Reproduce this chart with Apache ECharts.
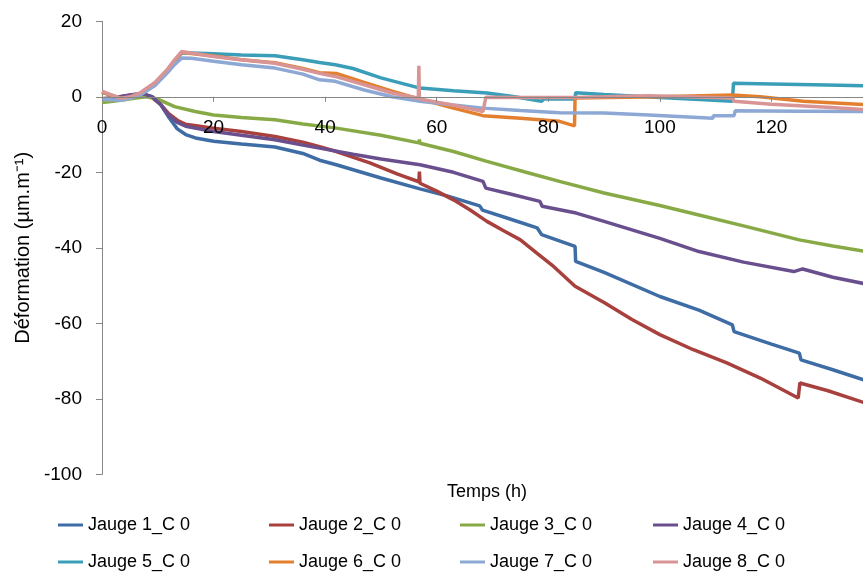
<!DOCTYPE html>
<html>
<head>
<meta charset="utf-8">
<script src="https://cdn.jsdelivr.net/npm/echarts@6/dist/echarts.min.js"></script>
<style>
html,body{margin:0;padding:0;background:#fff;}
#chart{width:863px;height:574px;}
</style>
</head>
<body>
<div id="chart"></div>
<script>
// Series names
const seriesNames = ['Jauge 1_C 0','Jauge 2_C 0','Jauge 3_C 0','Jauge 4_C 0','Jauge 5_C 0','Jauge 6_C 0','Jauge 7_C 0','Jauge 8_C 0'];
// Y tick labels (values)
const yTicks = [20, 0, -20, -40, -60, -80, -100];
// X tick labels (values)
const xTicks = [0, 20, 40, 60, 80, 100, 120];
const xTitle = 'Temps (h)';
const yTitle = 'Déformation (µm.m⁻¹)';

// [time (h), deformation (µm/m)]
const jauge1 = [[0,-0.8],[2,-0.5],[4,0],[6,0.5],[7.5,0.6],[9,0],[10.5,-2],[12,-5.5],[13.5,-8.5],[15,-10],[17,-11],[20,-11.8],[25,-12.5],[31,-13.3],[36,-15],[39,-16.8],[42,-18],[50,-21.5],[57,-24.4],[62,-26.3],[67.7,-28.9],[68.2,-30],[73,-32.3],[78,-34.7],[78.8,-36.5],[84.8,-39.6],[84.9,-43.6],[90,-46.5],[100,-52.9],[107,-56.5],[113,-60.4],[113.3,-62.2],[120,-65.5],[125,-67.9],[125.3,-69.7],[131,-72.3],[137,-75.2]];
const jauge2 = [[0,-0.5],[2,-0.3],[4,0.2],[6,0.6],[7.5,0.5],[9,-0.2],[10.5,-2],[12,-4.5],[13.5,-6.2],[15,-7.3],[20,-8.3],[25,-9.2],[31,-10.5],[36,-12],[39,-13.2],[42,-14.5],[48,-17.5],[53,-20.5],[56.8,-22.5],[56.9,-19.8],[57,-22.9],[60,-25],[63,-27.3],[66,-30],[69,-33],[72,-35.5],[75,-37.9],[78,-41.5],[81,-45],[84.8,-50.2],[90,-54.5],[95,-59],[100,-63],[106,-67],[112,-70.5],[118,-74.5],[124.8,-79.8],[125.1,-75.8],[130,-77.8],[137,-81.2]];
const jauge3 = [[0,-1.5],[2,-1.2],[4,-0.8],[6,-0.3],[8,0],[10,-0.6],[13,-2.6],[16.7,-3.9],[20,-4.8],[25,-5.5],[31,-6.1],[36,-7.2],[42,-8.3],[50,-10.2],[56.8,-12.2],[56.9,-11.3],[57,-12.3],[63,-14.5],[69,-17.1],[76,-20],[82,-22.4],[90,-25.5],[100,-28.8],[107,-31.3],[115,-34.2],[125,-37.9],[131,-39.5],[137,-41]];
const jauge4 = [[0,-0.5],[2,-0.3],[4,0.2],[6,0.7],[7.5,0.8],[9,0],[10.5,-2],[12,-5],[13.5,-6.8],[15,-7.8],[20,-9.2],[25,-10.2],[31,-11.4],[36,-12.8],[39,-13.6],[45,-15.2],[50,-16.5],[57,-18],[63,-20],[68.3,-22.4],[68.8,-24.2],[73,-25.7],[78.5,-27.7],[78.9,-29],[85,-30.8],[90,-33],[100,-37.5],[107,-41],[115,-43.8],[124,-46.3],[125.6,-45.6],[131,-47.8],[137,-49.6]];
const jauge5 = [[0,1.2],[1.5,0.5],[3.5,-0.5],[5,-0.2],[7,1],[9.5,3.6],[11.8,7.2],[13,9.5],[14.3,11.6],[16,11.6],[20,11.4],[25,11.1],[31,10.9],[36,9.8],[39,9.1],[41.8,8.5],[45,7.5],[50,5],[57,2.3],[63,1.6],[69,1.0],[74,0],[78.8,-1.2],[79.2,-0.6],[84.8,-0.6],[84.9,1.1],[90,0.6],[100,-0.2],[108,-0.8],[113,-1.2],[113.2,3.6],[120,3.4],[130,3.1],[137,2.9]];
const jauge6 = [[0,1.2],[1.5,0.5],[3.5,-0.5],[5,-0.2],[7,1],[9.5,3.6],[11.8,7.2],[13,9.5],[14.3,11.8],[16,11.5],[20,10.8],[25,9.8],[31,9.0],[36,7.5],[39,6.4],[42,6.2],[47,3.8],[52,1.5],[57,-0.6],[63,-3.0],[68.3,-5],[75,-5.7],[82,-6.5],[84.7,-7.7],[84.8,-0.3],[100,0],[113,0.5],[118,0],[125.7,-1.2],[137,-2.1]];
const jauge7 = [[0,-0.8],[1.5,-0.8],[3.5,-0.9],[5,-0.4],[7,0.6],[9.5,3],[11.8,6.5],[13,8.5],[14.3,10.3],[16,10.2],[20,9.4],[25,8.5],[31,7.6],[36,6],[39,4.5],[41.8,4.1],[47,1.8],[52,0],[57,-1.2],[63,-2.2],[68.3,-3],[75,-3.6],[82,-4.2],[90,-4.3],[98,-4.8],[109.5,-5.7],[109.6,-5.0],[113.3,-5],[113.5,-3.7],[125,-3.8],[137,-3.9]];
const jauge8 = [[0,1.5],[1.5,0.6],[3.5,-0.4],[5,0],[7,1.2],[9.5,3.8],[11.8,7.4],[13,9.8],[14.3,12],[16,11.6],[20,10.7],[25,9.8],[31,8.9],[36,7.3],[39,6.2],[41.8,5.4],[47,3.2],[52,1.0],[56.7,-0.4],[56.8,8.2],[56.9,-0.6],[63,-2.2],[68.3,-3.9],[68.8,-0.1],[75,-0.2],[85,-0.2],[98,0.3],[113,-0.3],[113.3,-1.2],[120,-2],[130,-2.8],[137,-3.4]];

const allData = [jauge1, jauge2, jauge3, jauge4, jauge5, jauge6, jauge7, jauge8];
const colors = ['#3E6CA5','#A8403D','#88AA46','#6A4F8E','#3B9EB8','#E3802F','#8DA8D4','#D99596'];

const FONT = 'Liberation Sans';
const chart = echarts.init(document.getElementById('chart'), null, {renderer: 'canvas'});

function legendCol(names, left) {
  return {
    data: names, orient: 'vertical', left: left, top: 515, height: 120, itemGap: 17,
    itemWidth: 25, itemHeight: 3, icon: 'rect', padding: 0,
    textStyle: {fontFamily: FONT, fontSize: 18, color: '#000', lineHeight: 20},
    selectedMode: false
  };
}

// grid geometry
const gridTop = 21.3, gridBottom = 99.7, chartH = 574;
const yMin = -100, yMax = 20;
// shift x axis up to the y=0 line
const plotH = chartH - gridTop - gridBottom;
const zeroOffset = -plotH * (0 - yMin) / (yMax - yMin);

const option = {
  animation: false,
  color: colors,
  grid: {left: 102, top: gridTop, right: -20, bottom: gridBottom, containLabel: false, outerBoundsMode: 'none'},
  title: {
    text: xTitle, left: 487, top: 483, textAlign: 'center', padding: 0,
    textStyle: {fontFamily: FONT, fontSize: 18, fontWeight: 'normal', color: '#000'}
  },
  xAxis: {
    type: 'value', min: 0, max: 140, interval: 20, position: 'bottom', offset: zeroOffset, z: 20,
    axisLine: {onZero: false, lineStyle: {color: '#868686', width: 1}},
    axisTick: {show: true, inside: false, length: 5, lineStyle: {color: '#868686'}},
    axisLabel: {fontFamily: FONT, fontSize: 19, color: '#000', margin: 21,
      formatter: v => xTicks.indexOf(v) >= 0 ? String(v) : ''},
    splitLine: {show: false}
  },
  yAxis: {
    type: 'value', min: yMin, max: yMax, interval: 20,
    axisLine: {show: true, lineStyle: {color: '#868686', width: 1}},
    axisTick: {show: true, inside: false, length: 6, lineStyle: {color: '#868686'}},
    axisLabel: {fontFamily: FONT, fontSize: 19, color: '#000', margin: 20,
      formatter: v => yTicks.indexOf(v) >= 0 ? String(v) : ''},
    splitLine: {show: false},
    name: yTitle, nameLocation: 'middle', nameGap: 62, nameRotate: 90,
    nameTextStyle: {fontFamily: FONT, fontSize: 20, color: '#000'}
  },
  legend: [
    legendCol([seriesNames[0], seriesNames[4]], 58),
    legendCol([seriesNames[1], seriesNames[5]], 269),
    legendCol([seriesNames[2], seriesNames[6]], 460),
    legendCol([seriesNames[3], seriesNames[7]], 653)
  ],
  series: allData.map((d, i) => ({
    name: seriesNames[i], type: 'line', data: d,
    showSymbol: false, symbol: 'none', smooth: false,
    lineStyle: {width: 3.5, color: colors[i]}, itemStyle: {color: colors[i]},
    z: 2 + i
  }))
};
chart.setOption(option);
</script>
</body>
</html>
